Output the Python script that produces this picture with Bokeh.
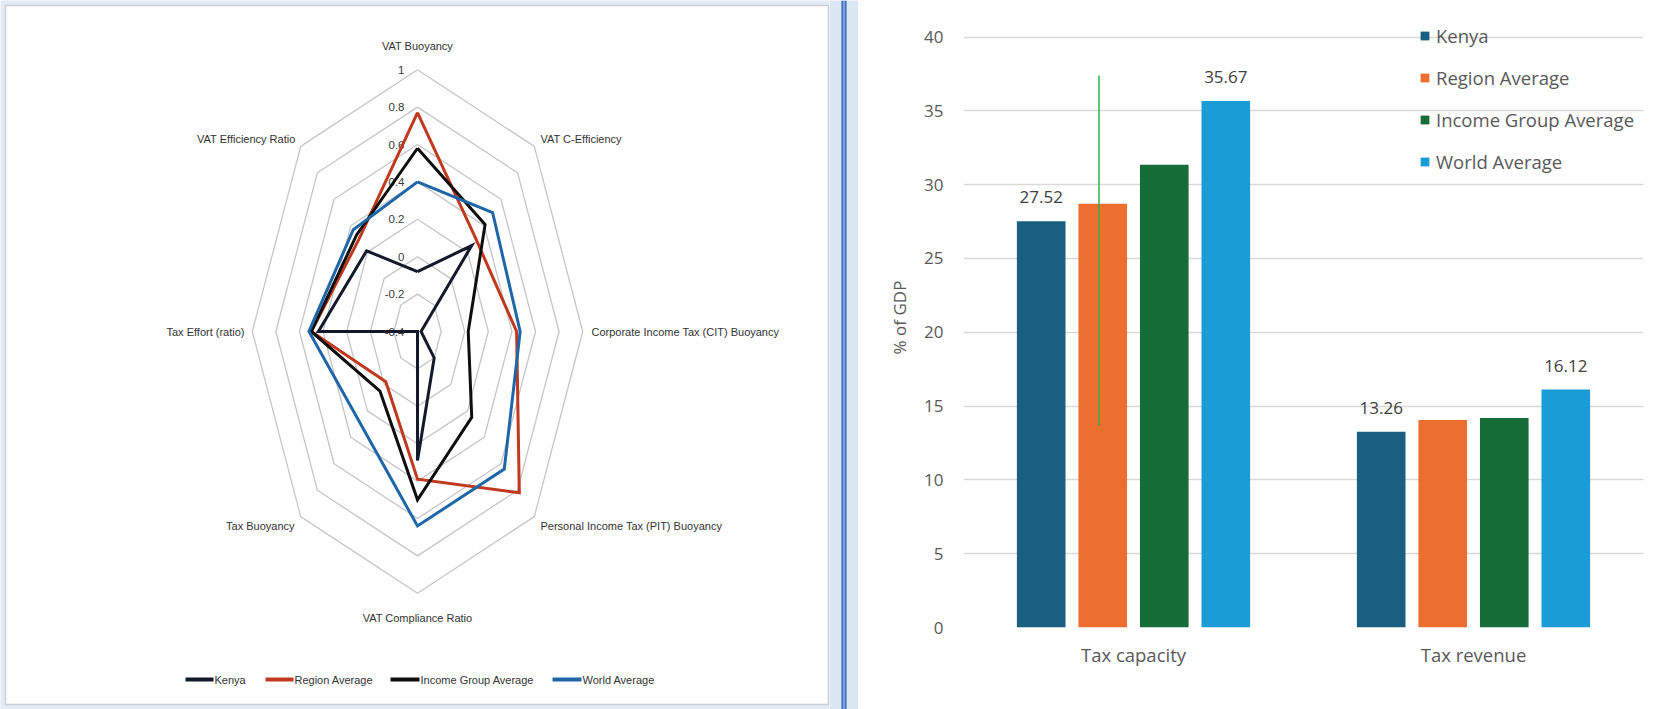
import numpy as np
from bokeh.plotting import figure
from bokeh.layouts import row
from bokeh.models import (Range1d, ColumnDataSource, FactorRange, FixedTicker,
                          Legend, LegendItem)
from bokeh.transform import dodge
from bokeh.core.properties import value
from bokeh.embed import file_html
from bokeh.resources import INLINE

# ---------------- radar data (tax efficiency indicators) ----------------
radar_axes = [
    "VAT Buoyancy",
    "VAT C-Efficiency",
    "Corporate Income Tax (CIT) Buoyancy",
    "Personal Income Tax (PIT) Buoyancy",
    "VAT Compliance Ratio",
    "Tax Buoyancy",
    "Tax Effort (ratio)",
    "VAT Efficiency Ratio",
]
radar_kenya = [-0.08, 0.25, -0.37, -0.20, 0.29, -0.40, 0.44, 0.21]
radar_region = [0.77, 0.30, 0.44, 0.82, 0.39, -0.02, 0.50, 0.30]
radar_income = [0.58, 0.41, 0.03, 0.25, 0.50, 0.05, 0.50, 0.33]
radar_world = [0.40, 0.50, 0.47, 0.64, 0.64, 0.29, 0.52, 0.37]
radar_ticks = [-0.4, -0.2, 0.0, 0.2, 0.4, 0.6, 0.8, 1.0]
radar_tick_labels = ["-0.4", "-0.2", "0", "0.2", "0.4", "0.6", "0.8", "1"]
radar_series_names = ["Kenya", "Region Average", "Income Group Average", "World Average"]

# ---------------- bar data (% of GDP) ----------------
bar_categories = ["Tax capacity", "Tax revenue"]
bar_kenya = [27.52, 13.26]
bar_region = [28.70, 14.05]
bar_income = [31.35, 14.20]
bar_world = [35.67, 16.12]
bar_series_names = ["Kenya", "Region Average", "Income Group Average", "World Average"]
bar_y_ticks = [0, 5, 10, 15, 20, 25, 30, 35, 40]
marker_low = [13.7]
marker_high = [37.4]

# ---------------- styling ----------------
H = 709
W_L, W_S, W_R = 829, 29, 805
NARROW = value("Liberation Sans")
SANS = "Open Sans"

RADAR_COLORS = ["#13192B", "#C0391E", "#0E0E0E", "#1F66A8"]
BAR_COLORS = ["#1A5E80", "#EC6F30", "#166C37", "#1A9DD6"]

# ======================= left panel: radar =======================
CX, CY = 417, 331      # radar centre, panel pixels
SX, SY = 118, 187      # pixels per value unit (horizontal / vertical)
AX_MIN = radar_ticks[0]


def px(x, y):
    """panel pixel position -> radar data coordinates"""
    return (x - CX) / SX, (CY - y) / SY


left = figure(width=W_L, height=H, toolbar_location=None, output_backend="svg",
              x_range=Range1d(-CX / SX, (W_L - CX) / SX),
              y_range=Range1d(-(H - CY) / SY, CY / SY),
              min_border=0, x_axis_location=None, y_axis_location=None)
left.frame_align = False
left.grid.visible = False
left.outline_line_color = None
left.background_fill_color = "#E3EBF5"
left.border_fill_color = "#E3EBF5"

# white card behind the radar
l0, t0 = px(5, 5)
r0, b0 = px(828, 704)
left.quad(left=l0, right=r0, top=t0, bottom=b0, fill_color="white",
          line_color="#C9CFD8", line_width=1.5)

theta = np.arange(len(radar_axes)) * 2 * np.pi / len(radar_axes)
sin_t, cos_t = np.sin(theta), np.cos(theta)


def closed(vals):
    r = np.asarray(vals, dtype=float) - AX_MIN
    xs = list(r * sin_t) + [r[0] * sin_t[0]]
    ys = list(r * cos_t) + [r[0] * cos_t[0]]
    return xs, ys


# grid rings
ring_xs, ring_ys = [], []
for t in radar_ticks[1:]:
    xs, ys = closed([t] * len(radar_axes))
    ring_xs.append(xs)
    ring_ys.append(ys)
left.multi_line(ring_xs, ring_ys, line_color="#C6C6C6", line_width=1.3)

# ring value labels along the top spoke
left.text(x=[0] * len(radar_ticks), y=[t - AX_MIN for t in radar_ticks],
          text=radar_tick_labels, x_offset=-13, text_align="right",
          text_baseline="middle", text_font=NARROW, text_font_size="11.5px",
          text_color="#3A3A3A")

# series
for vals, col in zip([radar_kenya, radar_region, radar_income, radar_world], RADAR_COLORS):
    xs, ys = closed(vals)
    left.line(xs, ys, line_color=col, line_width=3, line_join="miter")

# spoke captions
caption_pos = [
    (417, 45, "center"), (540, 138, "left"), (591, 331, "left"), (540, 525, "left"),
    (417, 617, "center"), (294, 525, "right"), (244, 331, "right"), (295, 138, "right"),
]
cx_, cy_, ca_ = [], [], []
for (x, y, a) in caption_pos:
    dx, dy = px(x, y)
    cx_.append(dx)
    cy_.append(dy)
    ca_.append(a)
left.text(x=cx_, y=cy_, text=radar_axes, text_align=ca_, text_baseline="middle",
          text_font=NARROW, text_font_size="11px", text_color="#333333")

# legend row under the radar
leg_line_px = [(185, 213), (265, 293), (390, 419), (552, 581)]
leg_y = 679
for (a, b), col, name in zip(leg_line_px, RADAR_COLORS, radar_series_names):
    xa, ya = px(a, leg_y)
    xb, _ = px(b, leg_y)
    left.line([xa, xb], [ya, ya], line_color=col, line_width=4)
    left.text(x=[xb], y=[ya], text=[name], x_offset=1, text_align="left",
              text_baseline="middle", text_font=NARROW, text_font_size="11px",
              text_color="#333333")

# ======================= separator strip =======================
sep = figure(width=W_S, height=H, toolbar_location=None, output_backend="svg",
             x_range=Range1d(0, W_S), y_range=Range1d(0, H), min_border=0,
             x_axis_location=None, y_axis_location=None)
sep.frame_align = False
sep.grid.visible = False
sep.outline_line_color = None
sep.background_fill_color = "#DCE7F4"
sep.border_fill_color = "#DCE7F4"
sep.segment(x0=[13, 16], y0=[0, 0], x1=[13, 16], y1=[H, H],
            line_color="#4472C4", line_width=2.2)

# ======================= right panel: bars =======================
right = figure(width=W_R, height=H, toolbar_location=None, output_backend="svg",
               x_range=FactorRange(*bar_categories), y_range=Range1d(0, 42.0),
               min_border_left=105, min_border_right=20, min_border_top=7,
               min_border_bottom=82)
right.frame_align = False
right.outline_line_color = None
right.background_fill_color = "white"
right.border_fill_color = "white"
right.xgrid.visible = False
right.ygrid.grid_line_color = "#D9D9D9"
right.ygrid.grid_line_width = 1.5
right.yaxis.ticker = FixedTicker(ticks=bar_y_ticks)

for ax in (right.xaxis, right.yaxis):
    ax.axis_line_color = None
    ax.major_tick_line_color = None
    ax.minor_tick_line_color = None
    ax.major_tick_out = 0
    ax.major_tick_in = 0
    ax.minor_tick_out = 0
    ax.major_label_text_font = SANS
    ax.major_label_text_color = "#595959"

right.yaxis.major_label_text_font_size = "17px"
right.xaxis.major_label_text_font_size = "18.5px"
right.yaxis.major_label_standoff = 20
right.yaxis.axis_label = "% of GDP"
right.yaxis.axis_label_text_font = SANS
right.yaxis.axis_label_text_font_size = "17px"
right.yaxis.axis_label_text_font_style = "normal"
right.yaxis.axis_label_text_color = "#595959"
right.yaxis.axis_label_standoff = 10
right.xaxis.major_label_standoff = 14

src = ColumnDataSource(dict(
    cat=bar_categories, kenya=bar_kenya, region=bar_region,
    income=bar_income, world=bar_world,
    kenya_lbl=[f"{v:.2f}" for v in bar_kenya],
    world_lbl=[f"{v:.2f}" for v in bar_world],
))

offsets = [-0.2715, -0.0905, 0.0905, 0.2715]
fields = ["kenya", "region", "income", "world"]
renderers = []
for off, fld, col in zip(offsets, fields, BAR_COLORS):
    r = right.vbar(x=dodge("cat", off, range=right.x_range), top=fld, width=0.143,
                   source=src, fill_color=col, line_color=None)
    renderers.append(r)

# value labels on the Kenya and World bars
for off, fld in [(offsets[0], "kenya"), (offsets[3], "world")]:
    right.text(x=dodge("cat", off, range=right.x_range), y=fld, text=fld + "_lbl",
               source=src, text_align="center", text_baseline="middle",
               y_offset=-24, text_font=value(SANS), text_font_size="17px",
               text_color="#404040")

# thin green marker over the Region bar in the capacity group
mk = ColumnDataSource(dict(cat=bar_categories[:1], lo=marker_low, hi=marker_high))
right.segment(x0=dodge("cat", -0.1015, range=right.x_range), y0="lo",
              x1=dodge("cat", -0.1015, range=right.x_range), y1="hi",
              source=mk, line_color="#2DB24A", line_width=1.5)

legend = Legend(items=[LegendItem(label=n, renderers=[r]) for n, r in zip(bar_series_names, renderers)],
                location=(456, 453), orientation="vertical", glyph_width=11, glyph_height=11,
                label_height=20, spacing=17, padding=0, margin=0, label_standoff=6,
                background_fill_alpha=0, border_line_color=None,
                label_text_font=SANS, label_text_font_size="18.5px",
                label_text_color="#595959")
right.add_layout(legend)

page = row(left, sep, right, spacing=0)
open("out.html", "w").write(file_html(page, INLINE))
